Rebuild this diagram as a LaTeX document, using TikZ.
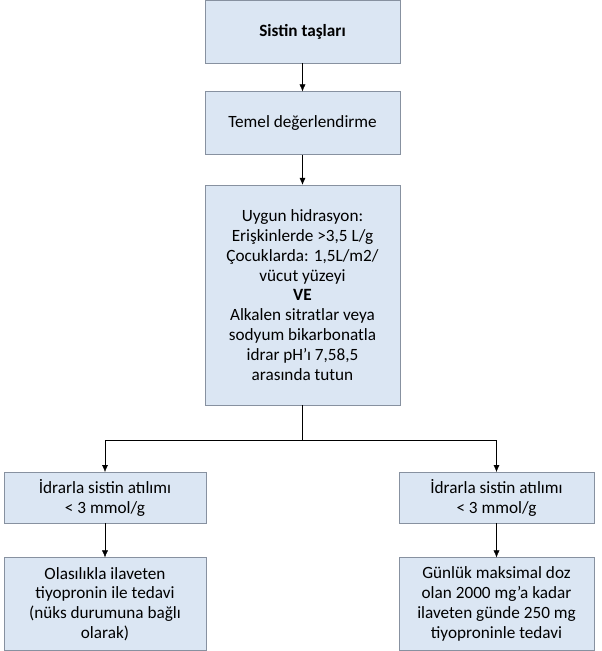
\documentclass[tikz,border=0pt]{standalone}
\usepackage{fontspec}
\setmainfont{Carlito}
\usetikzlibrary{positioning,arrows.meta}
\definecolor{boxfill}{RGB}{219,230,243}
\definecolor{boxline}{RGB}{135,145,160}

\begin{document}
\begin{tikzpicture}[x=1pt,y=1pt,>={Latex[length=7pt,width=6pt]},node distance=28pt,
    box/.style={draw=boxline, fill=boxfill, align=center, minimum width=195pt,
      inner sep=0pt, font=\fontsize{17.2}{19.8}\selectfont}]
    \useasboundingbox (0,0) rectangle (602,-651);
    \node[box, minimum height=63pt, anchor=north] (s1) at (302.5,0) {\textbf{Sistin taşları}};
    \node[box, minimum height=63pt] (s2) [below=of s1] {Temel değerlendirme};
    \node[box, minimum height=220pt] (s3) [below=30pt of s2] {Uygun hidrasyon:\\
      Erişkinlerde >3,5 L/g\\
      Çocuklarda: 1,5L/m2/\\
      vücut yüzeyi\\
      \textbf{VE}\\
      Alkalen sitratlar veya\\
      sodyum bikarbonatla\\
      idrar pH’ı 7,58,5\\
      arasında tutun};
    \coordinate (split) at (302.5,-440);
    \node[box, minimum width=202pt, minimum height=51pt, anchor=north] (l1) at (105,-472) {İdrarla sistin atılımı\\ < 3 mmol/g};
    \node[box, minimum width=195pt, minimum height=51pt, anchor=north] (r1) at (496.5,-472) {İdrarla sistin atılımı\\ < 3 mmol/g};
    \node[box, minimum width=202pt, minimum height=93pt] (l2) [below=34pt of l1] {Olasılıkla ilaveten\\
      tiyopronin ile tedavi\\
      (nüks durumuna bağlı\\
      olarak)};
    \node[box, minimum width=195pt, minimum height=93pt] (r2) [below=34pt of r1] {Günlük maksimal doz\\
      olan 2000 mg’a kadar\\
      ilaveten günde 250 mg\\
      tiyoproninle tedavi};

    \path[->]
    (s1) edge (s2)
    (s2) edge (s3)
    (l1) edge (l2)
    (r1) edge (r2);
    \draw (s3) -- (split);
    \draw[->] (split) -| (l1);
    \draw[->] (split) -| (r1);
\end{tikzpicture}
\end{document}
